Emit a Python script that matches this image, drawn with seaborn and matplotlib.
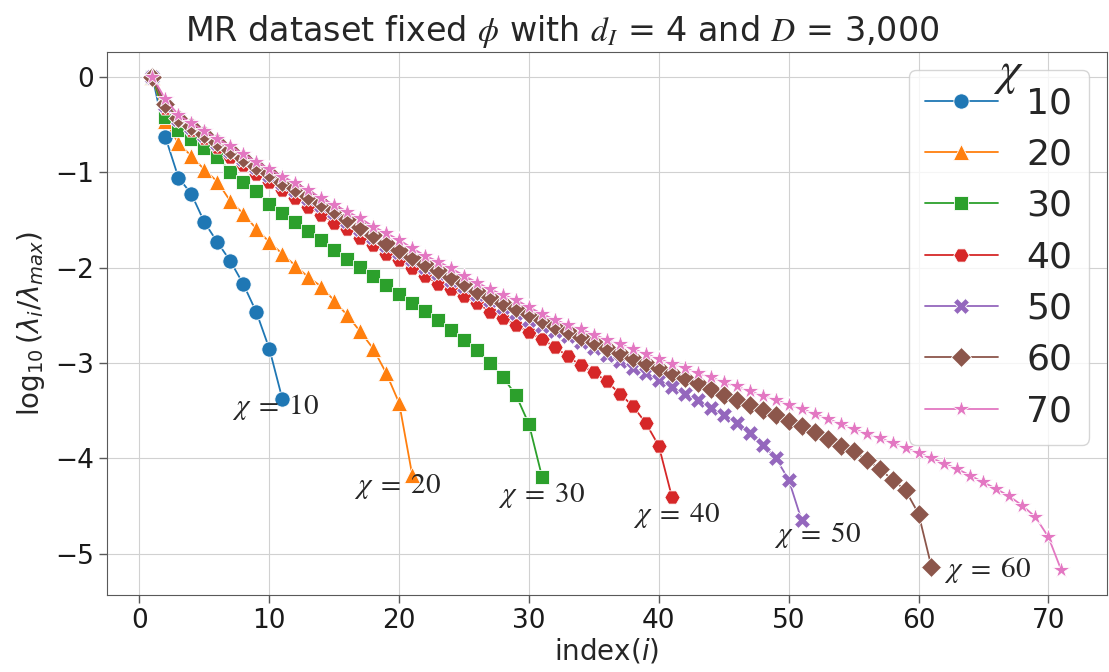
import numpy as np
import pandas as pd
import matplotlib
matplotlib.use("Agg")
import matplotlib.pyplot as plt
import seaborn as sns

chis = [10, 20, 30, 40, 50, 60, 70]

vals_10 = [0, -0.635, -1.057, -1.23, -1.525, -1.734, -1.933, -2.174, -2.467, -2.85, -3.375]
vals_20 = [0, -0.46, -0.70, -0.83, -0.975, -1.10, -1.305, -1.435, -1.595, -1.733, -1.857,
           -1.98, -2.10, -2.199, -2.347, -2.50, -2.67, -2.85, -3.106, -3.42, -4.17]
vals_30 = [0, -0.419, -0.558, -0.656, -0.75, -0.844, -0.995, -1.099, -1.195, -1.33, -1.425,
           -1.523, -1.614, -1.715, -1.815, -1.907, -1.99, -2.087, -2.181, -2.275, -2.373,
           -2.453, -2.548, -2.652, -2.757, -2.862, -3.0, -3.152, -3.337, -3.642, -4.19]
vals_40 = [0, -0.33, -0.453, -0.558, -0.645, -0.733, -0.838, -0.925, -1.019, -1.099, -1.186,
           -1.274, -1.361, -1.448, -1.529, -1.60, -1.687, -1.768, -1.853, -1.923, -2.007,
           -2.09, -2.17, -2.23, -2.30, -2.373, -2.461, -2.53, -2.60, -2.68, -2.75,
           -2.834, -2.932, -3.026, -3.099, -3.194, -3.323, -3.452, -3.63, -3.87, -4.40]
vals_50 = [0, -0.30, -0.44, -0.525, -0.615, -0.70, -0.782, -0.863, -0.948, -1.03, -1.117,
           -1.19, -1.27, -1.342, -1.42, -1.515, -1.595, -1.68, -1.768, -1.84, -1.912,
           -1.99, -2.055, -2.127, -2.198, -2.277, -2.342, -2.413, -2.48, -2.55, -2.61,
           -2.665, -2.722, -2.785, -2.844, -2.92, -2.984, -3.054, -3.106, -3.18, -3.25,
           -3.323, -3.393, -3.472, -3.543, -3.63, -3.734, -3.857, -3.996, -4.223, -4.649]
vals_60 = [0, -0.29, -0.43, -0.513, -0.603, -0.687, -0.768, -0.848, -0.932, -1.012, -1.099,
           -1.169, -1.249, -1.319, -1.396, -1.49, -1.57, -1.658, -1.745, -1.815, -1.885,
           -1.961, -2.024, -2.094, -2.164, -2.241, -2.304, -2.373, -2.42, -2.49, -2.555,
           -2.615, -2.67, -2.729, -2.785, -2.844, -2.90, -2.949, -3.0, -3.054, -3.106,
           -3.158, -3.21, -3.273, -3.333, -3.385, -3.438, -3.497, -3.543, -3.613, -3.665,
           -3.728, -3.797, -3.867, -3.927, -4.014, -4.11, -4.223, -4.335, -4.579, -5.137]
vals_70 = [0, -0.237, -0.401, -0.488, -0.565, -0.652, -0.726, -0.813, -0.89, -0.967, -1.047,
           -1.116, -1.186, -1.274, -1.343, -1.413, -1.483, -1.57, -1.64, -1.71, -1.797,
           -1.877, -1.937, -2.007, -2.087, -2.157, -2.227, -2.286, -2.338, -2.415, -2.485,
           -2.548, -2.60, -2.645, -2.705, -2.757, -2.80, -2.855, -2.904, -2.959, -3.008,
           -3.054, -3.106, -3.148, -3.204, -3.246, -3.298, -3.343, -3.385, -3.438, -3.483,
           -3.532, -3.588, -3.637, -3.692, -3.741, -3.786, -3.839, -3.891, -3.943, -3.996,
           -4.056, -4.111, -4.181, -4.251, -4.32, -4.398, -4.495, -4.614, -4.823, -5.173]

series = [vals_10, vals_20, vals_30, vals_40, vals_50, vals_60, vals_70]
marker_list = ["o", "^", "s", "H", "X", "D", "*"]
marker_sizes = [11, 11.5, 10, 11, 11.5, 10, 13]
colors = sns.color_palette("tab10", 7)

# annotation labels and their (x, y) positions in data units
ann_labels = [r"$\chi\;=\;10$", r"$\chi\;=\;20$", r"$\chi\;=\;30$", r"$\chi\;=\;40$",
              r"$\chi\;=\;50$", r"$\chi\;=\;60$"]
ann_x = [7.1, 16.5, 27.6, 38.0, 48.9, 62.0]
ann_y = [-3.46, -4.29, -4.39, -4.60, -4.80, -5.17]

title = r"MR dataset fixed $\phi$ with $d_I$ = 4 and $D$ = 3,000"

sns.set_style("whitegrid", {"axes.edgecolor": "0.35", "grid.color": "0.82",
                            "xtick.bottom": True, "ytick.left": True,
                            "xtick.color": "0.1", "ytick.color": "0.1"})
plt.rcParams["font.family"] = ["DejaVu Sans"]

fig = plt.figure(figsize=(11.09, 6.72), dpi=100)
ax = fig.add_axes([0.0965, 0.1146, 0.9015, 0.808])

for chi, vals, m, ms, c in zip(chis, series, marker_list, marker_sizes, colors):
    df = pd.DataFrame({"index": np.arange(1, len(vals) + 1), "val": vals})
    sns.lineplot(data=df, x="index", y="val", color=c, marker=m, markersize=ms,
                 markeredgewidth=0.6, linewidth=1.3, label=str(chi), ax=ax)

for t, x, y in zip(ann_labels, ann_x, ann_y):
    ax.text(x, y, t, fontsize=21, math_fontfamily="stix", ha="left", va="center")

ax.set_xlabel(r"index$(i)$", fontsize=20, labelpad=2)
ax.set_ylabel(r"$\log_{10}(\lambda_i/\lambda_{max})$", fontsize=20, labelpad=6)
ax.tick_params(axis="both", labelsize=19, length=6, width=1, color="0.35")
ax.set_xticks([0, 10, 20, 30, 40, 50, 60, 70])
ax.set_yticks([0, -1, -2, -3, -4, -5])

handles, labels = ax.get_legend_handles_labels()
leg = ax.legend(handles, labels, loc="upper right", fontsize=26, labelspacing=0.48,
                handlelength=2.0, borderpad=0.45, handletextpad=0.8, borderaxespad=0.5)

fig.text(1008 / 1109, 1 - 74 / 672, r"$\chi$", fontsize=34, math_fontfamily="stix",
         ha="center", va="center")

fig.text(562 / 1109, 1 - 31 / 672, title, fontsize=24, math_fontfamily="stix",
         ha="center", va="center")

fig.savefig("out.png", dpi=100)
